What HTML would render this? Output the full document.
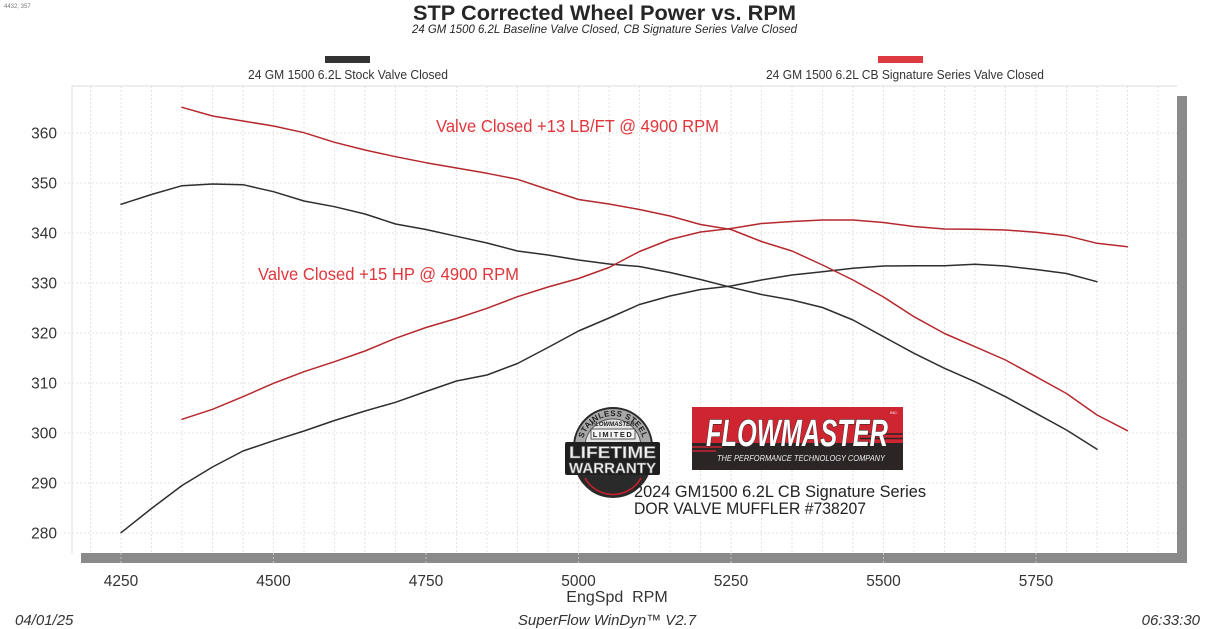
<!DOCTYPE html>
<html>
<head>
<meta charset="utf-8">
<style>
  html,body{margin:0;padding:0;background:#fff;}
  svg{display:block;}
  text{font-family:"Liberation Sans",Arial,sans-serif;}
</style>
</head>
<body>
<svg width="1214" height="629" viewBox="0 0 1214 629" xmlns="http://www.w3.org/2000/svg">
  <rect x="0" y="0" width="1214" height="629" fill="#ffffff"/>

  <!-- corner text -->
  <text x="4" y="8" font-size="6" fill="#777">4432, 357</text>

  <!-- titles -->
  <text x="413" y="20" font-size="21.5" font-weight="bold" fill="#262626" textLength="383" lengthAdjust="spacingAndGlyphs">STP Corrected Wheel Power vs. RPM</text>
  <text x="412" y="33" font-size="12" font-style="italic" fill="#262626" textLength="385" lengthAdjust="spacingAndGlyphs">24 GM 1500 6.2L Baseline Valve Closed, CB Signature Series Valve Closed</text>

  <!-- legend -->
  <rect x="325" y="56" width="45" height="7" fill="#333333"/>
  <text x="248" y="79" font-size="13" fill="#333" textLength="200" lengthAdjust="spacingAndGlyphs">24 GM 1500 6.2L Stock Valve Closed</text>
  <rect x="878" y="56" width="45" height="7" fill="#de3a42"/>
  <text x="766" y="79" font-size="13" fill="#333" textLength="278" lengthAdjust="spacingAndGlyphs">24 GM 1500 6.2L CB Signature Series Valve Closed</text>

  <!-- shadow -->
  <rect x="81" y="553" width="1106" height="10" fill="#8a8a8a"/>
  <rect x="1177" y="96" width="10" height="467" fill="#8a8a8a"/>
  <path d="M121 553V563M273.5 553V563M426 553V563M578.5 553V563M731 553V563M883.5 553V563M1036 553V563" stroke="#c4c4c4" stroke-width="1" stroke-dasharray="2,2"/>

  <!-- plot area -->
  <rect x="72" y="86" width="1105" height="467" fill="#ffffff"/>
  <path d="M72 553V86H1177" fill="none" stroke="#dcdcdc" stroke-width="1"/>

  <!-- grid -->
  <path fill="none" stroke="#e3e3e3" stroke-width="1" stroke-dasharray="2,2"
    d="M90.5 86V553M121 86V553M151.5 86V553M182 86V553M212.5 86V553M243 86V553M273.5 86V553M304 86V553M334.5 86V553M365 86V553M395.5 86V553M426 86V553M456.5 86V553M487 86V553M517.5 86V553M548 86V553M578.5 86V553M609 86V553M639.5 86V553M670 86V553M700.5 86V553M731 86V553M761.5 86V553M792 86V553M822.5 86V553M853 86V553M883.5 86V553M914 86V553M944.5 86V553M975 86V553M1005.5 86V553M1036 86V553M1066.5 86V553M1097 86V553M1127.5 86V553M1158 86V553"/>
  <path fill="none" stroke="#e3e3e3" stroke-width="1" stroke-dasharray="2,2"
    d="M64 133H1177M64 183H1177M64 233H1177M64 283H1177M64 333H1177M64 383H1177M64 433H1177M64 483H1177M64 533H1177"/>

  <!-- y labels -->
  <g font-size="15.5" fill="#333" text-anchor="end">
    <text x="57" y="138.5">360</text>
    <text x="57" y="188.5">350</text>
    <text x="57" y="238.5">340</text>
    <text x="57" y="288.5">330</text>
    <text x="57" y="338.5">320</text>
    <text x="57" y="388.5">310</text>
    <text x="57" y="438.5">300</text>
    <text x="57" y="488.5">290</text>
    <text x="57" y="538.5">280</text>
  </g>

  <!-- x labels -->
  <g font-size="15.5" fill="#333" text-anchor="middle">
    <text x="121" y="586">4250</text>
    <text x="273.5" y="586">4500</text>
    <text x="426" y="586">4750</text>
    <text x="578.5" y="586">5000</text>
    <text x="731" y="586">5250</text>
    <text x="883.5" y="586">5500</text>
    <text x="1036" y="586">5750</text>
  </g>
  <text x="617" y="602" font-size="16" fill="#333" text-anchor="middle">EngSpd&#160; RPM</text>

  <!-- footer -->
  <text x="15" y="625" font-size="15" font-style="italic" fill="#333">04/01/25</text>
  <text x="607" y="625" font-size="15" font-style="italic" fill="#333" text-anchor="middle">SuperFlow WinDyn™ V2.7</text>
  <text x="1200" y="625" font-size="15" font-style="italic" fill="#333" text-anchor="end">06:33:30</text>

  <!-- curves -->
  <g fill="none" stroke-width="1.5" stroke-linejoin="round" stroke-linecap="round">
    <polyline stroke="#2e2e2e" points="121,532.7 151.5,508.5 182,485.5 212.5,467 243,451 273.5,440.7 304,431 334.5,420.5 365,411 395.5,402.3 426,391.5 456.5,381 487,375 517.5,363.5 548,347.5 578.5,331 609,318 639.5,304.5 670,296 700.5,289.5 731,286 761.5,280 792,275 822.5,271.7 853,268.3 883.5,266 914,265.7 944.5,265.7 975,264.3 1005.5,266 1036,269.5 1066.5,273.5 1097,281.7"/>
    <polyline stroke="#2e2e2e" points="121,204.3 151.5,194.5 182,185.7 212.5,184 243,184.7 273.5,191.7 304,201 334.5,206.7 365,214 395.5,224 426,229.5 456.5,236.3 487,243 517.5,251 548,255 578.5,260 609,264 639.5,266.5 670,272.5 700.5,279.5 731,287.3 761.5,294.5 792,300 822.5,307.5 853,320 883.5,336.7 914,353.3 944.5,368.3 975,381.7 1005.5,396.7 1036,413.3 1066.5,430 1097,449.3"/>
    <polyline stroke="#b5282e" points="182,107.3 212.5,116 243,121 273.5,126 304,132.7 334.5,142.3 365,150 395.5,156.7 426,162.7 456.5,168 487,173.3 517.5,179.3 548,189.5 578.5,199.5 609,204 639.5,209.5 670,216 700.5,224.5 731,229.5 761.5,241.5 792,251 822.5,265 853,280 883.5,297 914,316.7 944.5,333.5 975,346.7 1005.5,360 1036,376.7 1066.5,393.5 1097,415 1127.5,430.7"/>
    <polyline stroke="#b5282e" points="182,419.3 212.5,409.3 243,396.7 273.5,383.3 304,371.7 334.5,361.7 365,351 395.5,338.3 426,327.5 456.5,318.5 487,308.3 517.5,296.7 548,287 578.5,278.5 609,267.5 639.5,251.5 670,239.5 700.5,232 731,228.5 761.5,223.5 792,221.5 822.5,220 853,220 883.5,222.5 914,226.5 944.5,229 975,229.3 1005.5,230 1036,232.3 1066.5,235.7 1097,243.3 1127.5,246.7"/>
  </g>

  <!-- annotations -->
  <text x="436" y="132" font-size="17.5" fill="#e0363c" textLength="283" lengthAdjust="spacingAndGlyphs">Valve Closed +13 LB/FT @ 4900 RPM</text>
  <text x="258" y="280" font-size="17.5" fill="#e0363c" textLength="261" lengthAdjust="spacingAndGlyphs">Valve Closed +15 HP @ 4900 RPM</text>

  <!-- warranty badge -->
  <g>
    <defs>
      <path id="arcTop" d="M582 447 A31 31 0 0 1 644 447"/>
    </defs>
    <circle cx="613" cy="447" r="39" fill="#a8a8a8" stroke="#2a2a2a" stroke-width="2"/>
    <circle cx="613" cy="447" r="28" fill="#e2e2e2" stroke="#555" stroke-width="1"/>
    <text font-size="8" font-weight="bold" fill="#1e1e1e" letter-spacing="0.5"><textPath href="#arcTop" startOffset="50%" text-anchor="middle">STAINLESS STEEL</textPath></text>
    <text x="613" y="426" font-size="6" font-weight="bold" font-style="italic" fill="#222" text-anchor="middle">FLOWMASTER</text>
    <rect x="591" y="429" width="44" height="10" fill="#f4f4f4" stroke="#333" stroke-width="0.8"/>
    <text x="613" y="437" font-size="7.5" font-weight="bold" fill="#222" text-anchor="middle" letter-spacing="1.5">LIMITED</text>
    <path d="M577 474 A39 39 0 0 0 649 474 Z" fill="#2a2a2a"/>
    <path d="M585 478 A32 32 0 0 0 641 478" fill="none" stroke="#c8202a" stroke-width="1.5"/>
    <rect x="565" y="442" width="95" height="33" rx="2" fill="#1f1f1f"/>
    <text x="569" y="458" font-size="17" font-weight="bold" fill="#f2f2f2" stroke="#777" stroke-width="0.6" textLength="87" lengthAdjust="spacingAndGlyphs">LIFETIME</text>
    <text x="569" y="473" font-size="15" font-weight="bold" fill="#f2f2f2" stroke="#777" stroke-width="0.6" textLength="87" lengthAdjust="spacingAndGlyphs">WARRANTY</text>
  </g>

  <!-- flowmaster logo -->
  <g>
    <rect x="692" y="407" width="211" height="63" fill="#2b2526"/>
    <rect x="692" y="407" width="211" height="36" fill="#cf2531"/>
    <path d="M855 434H903M860 438.5H903" stroke="#2b2526" stroke-width="1.6"/>
    <path d="M692 447H722M692 451H716" stroke="#cf2531" stroke-width="1.6"/>
    <text x="706" y="446" font-size="38" font-weight="bold" font-style="italic" fill="#ffffff" stroke="#222" stroke-width="1" paint-order="stroke" textLength="182" lengthAdjust="spacingAndGlyphs">FLOWMASTER</text>
    <text x="890" y="414" font-size="4" fill="#fff">INC.</text>
    <text x="717" y="461" font-size="8.5" font-style="italic" fill="#eeeeee" textLength="168" lengthAdjust="spacingAndGlyphs">THE PERFORMANCE TECHNOLOGY COMPANY</text>
  </g>

  <!-- product text -->
  <text x="634" y="497" font-size="16.5" fill="#222" textLength="292" lengthAdjust="spacingAndGlyphs">2024 GM1500 6.2L CB Signature Series</text>
  <text x="634" y="514" font-size="16.5" fill="#222" textLength="232" lengthAdjust="spacingAndGlyphs">DOR VALVE MUFFLER #738207</text>
</svg>
</body>
</html>
